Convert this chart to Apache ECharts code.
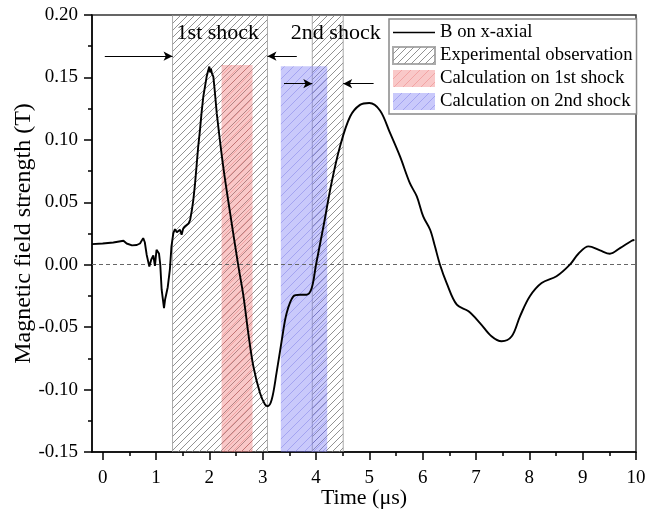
<!DOCTYPE html>
<html>
<head>
<meta charset="utf-8">
<script src="https://cdn.jsdelivr.net/npm/echarts@6/dist/echarts.min.js"></script>
<style>
  html, body { margin: 0; padding: 0; background: #fff; }
  #chart { width: 659px; height: 511px; }
</style>
</head>
<body>
<div id="chart"></div>
<script>
// Measured field B along the x axis: fast-varying part (sharp, unsmoothed)
const timeEarly = [-0.2, 0.0, 0.2, 0.39, 0.45, 0.55, 0.64, 0.70, 0.76, 0.79, 0.825, 0.875, 0.91, 0.95, 0.98,
  1.01, 1.056, 1.08, 1.106, 1.15, 1.17, 1.19, 1.22, 1.26, 1.29, 1.325, 1.356, 1.39, 1.42, 1.45, 1.48, 1.51,
  1.54, 1.575, 1.61, 1.64, 1.67, 1.70, 1.73, 1.76, 1.79, 1.825, 1.855, 1.887, 1.92, 1.95, 1.975, 2.0, 2.015,
  2.03, 2.05, 2.075, 2.10, 2.14];
const fieldEarly = [0.0165, 0.017, 0.0178, 0.0192, 0.017, 0.0155, 0.0158, 0.017, 0.0213, 0.018, 0.008, -0.0015, 0.004, 0.0075, -0.001,
  0.012, 0.009, 0.0, -0.02, -0.0347, -0.028, -0.024, -0.018, -0.004, 0.0147, 0.0253, 0.0285, 0.026, 0.0248, 0.028, 0.024, 0.029,
  0.0307, 0.0307, 0.033, 0.036, 0.043, 0.052, 0.064, 0.0787, 0.094, 0.108, 0.122, 0.1347, 0.143, 0.1507, 0.155, 0.1587, 0.154,
  0.157, 0.153, 0.1507, 0.14, 0.121];
// Slowly varying remainder (smoothed)
const timeLate = [2.14, 2.26, 2.39, 2.54, 2.64, 2.73, 2.825, 2.95, 3.044, 3.094, 3.17, 3.26, 3.36, 3.45, 3.575, 3.70,
  3.825, 3.92, 4.0, 4.14, 4.29, 4.45, 4.64, 4.825, 5.0, 5.2, 5.39, 5.575, 5.76, 5.89, 6.01, 6.14, 6.23, 6.325,
  6.45, 6.64, 6.86, 7.075, 7.29, 7.48, 7.67, 7.825, 8.01, 8.23, 8.51, 8.76, 8.92, 9.11, 9.325, 9.51, 9.70, 9.92, 9.97];
const fieldLate = [0.121, 0.0787, 0.0413, 0.0, -0.0253, -0.0547, -0.0813, -0.1027, -0.112, -0.1133, -0.108, -0.0867, -0.06, -0.0387, -0.0253, -0.024,
  -0.024, -0.0187, 0.0, 0.0307, 0.0653, 0.0947, 0.1187, 0.128, 0.1295, 0.1235, 0.1053, 0.0867, 0.0653, 0.0547, 0.0387, 0.028, 0.0147, 0.0,
  -0.0147, -0.032, -0.0373, -0.0467, -0.0573, -0.0613, -0.0573, -0.0413, -0.0253, -0.0147, -0.0093, 0.0, 0.0088, 0.0147, 0.0115, 0.0088, 0.0133, 0.0192, 0.0198];

// Time windows [start, end] (µs) and calculated windows [start, end, top field]
const expWindows = [[1.31, 3.09], [3.93, 4.51]];
const calc1stWindows = [[2.23, 2.81, 0.16]];
const calc2ndWindows = [[3.34, 4.21, 0.159]];

// Arrows: [fromTime, toTime, field]
const arrows = [[0.04, 1.31, 0.167], [3.64, 3.09, 0.167], [3.40, 3.93, 0.145], [5.08, 4.51, 0.145]];
// Shock labels: [time, field]
const shockLabelPos = [[2.16, 0.1856], [4.37, 0.1856]];
const shockLabelText = ['1st shock', '2nd shock'];

// Axes
const xMajorTicks = [0, 1, 2, 3, 4, 5, 6, 7, 8, 9, 10];
const xMinorTicks = [0.5, 1.5, 2.5, 3.5, 4.5, 5.5, 6.5, 7.5, 8.5, 9.5];
const X_MIN = -0.2, X_MAX = 10;
const Y_MIN = -0.15, Y_MAX = 0.20, Y_STEP = 0.05;

const FONT = '"Liberation Serif", "Times New Roman", serif';

function hatch(bg, line, size, width) {
  const c = document.createElement('canvas');
  c.width = size; c.height = size;
  const g = c.getContext('2d');
  if (bg) { g.fillStyle = bg; g.fillRect(0, 0, size, size); }
  g.strokeStyle = line; g.lineWidth = width;
  g.beginPath();
  g.moveTo(0, size); g.lineTo(size, 0);
  g.moveTo(-2, 2); g.lineTo(2, -2);
  g.moveTo(size - 2, size + 2); g.lineTo(size + 2, size - 2);
  g.stroke();
  return { image: c, repeat: 'repeat' };
}

const expFill = hatch(null, 'rgba(110,110,110,0.75)', 7, 1);
const redFill = hatch('rgba(240,110,110,0.38)', 'rgba(225,80,80,0.3)', 9, 1);
const blueFill = hatch('rgba(120,120,245,0.4)', 'rgba(80,80,220,0.3)', 9, 1);

function windowSeries(name, data, fill, stroke, fullHeight) {
  return {
    name: name,
    type: 'custom',
    z: 1,
    data: data,
    clip: true,
    itemStyle: { color: fill, borderColor: stroke || 'transparent', borderWidth: stroke ? 1 : 0 },
    encode: { x: [0, 1], y: fullHeight ? [] : [2] },
    renderItem: function (params, api) {
      const top = fullHeight ? Y_MAX : api.value(2);
      const p0 = api.coord([api.value(0), top]);
      const p1 = api.coord([api.value(1), Y_MIN]);
      return {
        type: 'rect',
        shape: { x: p0[0], y: p0[1], width: p1[0] - p0[0], height: p1[1] - p0[1] },
        style: { fill: fill, stroke: stroke || null, lineWidth: stroke ? 1 : 0 }
      };
    }
  };
}

const chart = echarts.init(document.getElementById('chart'), null, { renderer: 'canvas' });

const option = {
  animation: false,
  backgroundColor: '#fff',
  textStyle: { fontFamily: FONT },
  grid: {
    left: 92, right: 23, top: 15, bottom: 59,
    containLabel: false, outerBoundsMode: 'none',
    show: true, borderColor: '#333', borderWidth: 1.5, backgroundColor: 'transparent'
  },
  legend: {
    orient: 'vertical',
    left: 389, top: 19,
    itemWidth: 42, itemHeight: 17, itemGap: 4,
    padding: [4, 4, 3, 3],
    borderColor: '#888', borderWidth: 1.5,
    backgroundColor: '#fff',
    selectedMode: false,
    z: 10,
    textStyle: { fontFamily: FONT, fontSize: 18.7, color: '#000' },
    data: [
      { name: 'B on x-axial', icon: 'path://M0,0 L44,0 L44,1.8 L0,1.8 Z', itemStyle: { color: '#000' } },
      { name: 'Experimental observation', icon: 'rect' },
      { name: 'Calculation on 1st shock', icon: 'rect' },
      { name: 'Calculation on 2nd shock', icon: 'rect' }
    ]
  },
  xAxis: [{
    type: 'value', min: X_MIN, max: X_MAX, position: 'bottom',
    name: 'Time (μs)', nameLocation: 'middle', nameGap: 35, nameMoveOverlap: false,
    nameTextStyle: { fontFamily: FONT, fontSize: 22, color: '#000' },
    axisLine: { show: true, onZero: false, lineStyle: { color: '#000', width: 1.5 } },
    axisTick: { show: true, inside: false, length: 8, customValues: xMajorTicks, lineStyle: { color: '#000', width: 1.5 } },
    axisLabel: { show: true, customValues: xMajorTicks, margin: 17, fontFamily: FONT, fontSize: 19, color: '#000' },
    splitLine: { show: false }
  }, {
    type: 'value', min: X_MIN, max: X_MAX, position: 'bottom',
    axisLine: { show: false, onZero: false },
    axisTick: { show: true, inside: false, length: 4, customValues: xMinorTicks, lineStyle: { color: '#000', width: 1.5 } },
    axisLabel: { show: false },
    splitLine: { show: false }
  }],
  yAxis: {
    type: 'value', min: Y_MIN, max: Y_MAX, interval: Y_STEP,
    name: 'Magnetic field strength (T)', nameLocation: 'middle', nameGap: 56, nameMoveOverlap: false,
    nameTextStyle: { fontFamily: FONT, fontSize: 24, color: '#000' },
    axisLine: { show: true, onZero: false, lineStyle: { color: '#000', width: 1.5 } },
    axisTick: { show: true, inside: false, length: 8, lineStyle: { color: '#000', width: 1.5 } },
    minorTick: { show: true, splitNumber: 2, length: 4, lineStyle: { color: '#000', width: 1.5 } },
    axisLabel: { margin: 14, fontFamily: FONT, fontSize: 19, color: '#000', formatter: v => v.toFixed(2) },
    splitLine: { show: false }
  },
  series: [
    windowSeries('Experimental observation', expWindows, expFill, 'rgba(150,150,150,0.8)', true),
    windowSeries('Calculation on 1st shock', calc1stWindows, redFill, null, false),
    windowSeries('Calculation on 2nd shock', calc2ndWindows, blueFill, null, false),
    {
      name: 'B on x-axial', type: 'line', z: 3,
      data: timeEarly.map((t, i) => [t, fieldEarly[i]]),
      symbol: 'none', smooth: false,
      lineStyle: { color: '#000', width: 1.9 },
      itemStyle: { color: '#000' },
      markLine: {
        silent: true, symbol: 'none', z: 2,
        label: { show: false },
        lineStyle: { color: '#666', type: [4, 3], width: 1 },
        data: [{ yAxis: 0 }]
      }
    },
    {
      name: 'B on x-axial', type: 'line', z: 3,
      data: timeLate.map((t, i) => [t, fieldLate[i]]),
      symbol: 'none', smooth: 0.35,
      lineStyle: { color: '#000', width: 1.9 },
      itemStyle: { color: '#000' },
      markLine: {
        silent: true, z: 4,
        symbol: ['none', 'arrow'], symbolSize: [7, 9],
        label: { show: false },
        lineStyle: { color: '#000', type: 'solid', width: 1 },
        data: arrows.map(a => [{ coord: [a[0], a[2]] }, { coord: [a[1], a[2]] }])
      }
    },
    {
      name: 'shock labels', type: 'scatter', z: 5, silent: true,
      data: shockLabelPos,
      symbol: 'circle', symbolSize: 0.01,
      itemStyle: { color: '#000', opacity: 1 },
      label: {
        show: true, position: 'inside',
        formatter: p => shockLabelText[p.dataIndex],
        fontFamily: FONT, fontSize: 22, color: '#000',
        textBorderWidth: 0, opacity: 1
      }
    }
  ]
};

chart.setOption(option);
</script>
</body>
</html>
